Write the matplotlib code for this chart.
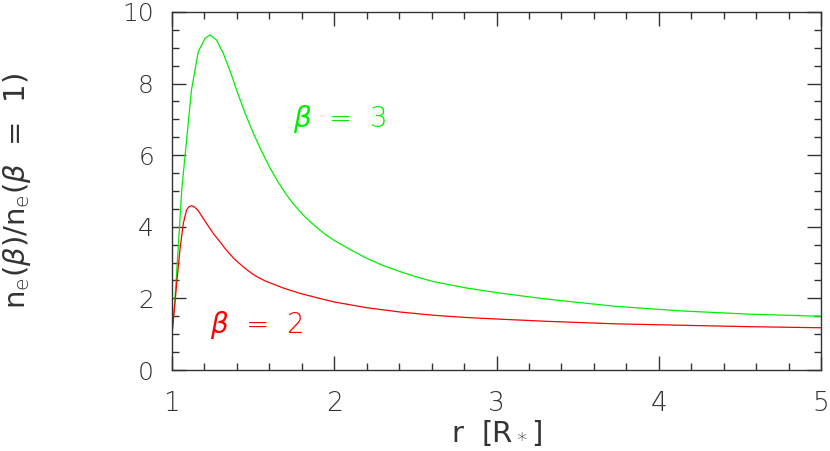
import matplotlib
matplotlib.use("Agg")
import matplotlib.pyplot as plt

# curves
r_beta3 = [1.0, 1.018, 1.039, 1.06, 1.09, 1.12, 1.142, 1.162, 1.183, 1.203, 1.234,
           1.274, 1.316, 1.367, 1.398, 1.45, 1.5, 1.55, 1.6, 1.65, 1.7, 1.75,
           1.8, 1.85, 1.9, 1.95, 2.0, 2.1, 2.2, 2.3, 2.405, 2.5, 2.61, 2.815, 3.02,
           3.31, 3.73, 4.14, 4.56, 5.0]
n_beta3 = [1.0, 1.96, 3.44, 5.03, 6.42, 7.82, 8.38, 8.89, 9.08, 9.26, 9.36,
           9.22, 8.85, 8.24, 7.82, 7.18, 6.63, 6.13, 5.68, 5.28, 4.93, 4.63,
           4.37, 4.15, 3.95, 3.77, 3.62, 3.36, 3.12, 2.92, 2.75, 2.61, 2.47, 2.29, 2.15,
           1.98, 1.78, 1.65, 1.56, 1.50]

r_beta2 = [1.0, 1.015, 1.029, 1.049, 1.07, 1.09, 1.105, 1.121, 1.14, 1.162, 1.19,
           1.224, 1.26, 1.296, 1.326, 1.38, 1.45, 1.51, 1.573, 1.686, 1.79,
           1.91, 2.0, 2.2, 2.405, 2.61, 2.8, 3.02, 3.31, 3.73, 4.14, 4.56, 5.0]
n_beta2 = [0.98, 1.7, 2.42, 3.35, 4.1, 4.47, 4.56, 4.59, 4.55, 4.45, 4.25,
           4.02, 3.78, 3.58, 3.4, 3.12, 2.84, 2.64, 2.49, 2.29, 2.14,
           2.0, 1.9, 1.74, 1.62, 1.53, 1.47, 1.42, 1.36, 1.29, 1.25, 1.21, 1.18]

plt.rcParams['font.family'] = ['DejaVu Sans']
plt.rcParams['font.weight'] = 'light'
plt.rcParams['mathtext.fontset'] = 'custom'
plt.rcParams['mathtext.rm'] = 'DejaVu Sans:weight=light'
plt.rcParams['mathtext.it'] = 'DejaVu Sans:italic'

ink = '#333333'
fig = plt.figure(figsize=(8.3, 4.51), dpi=100)
ax = fig.add_axes([0.2072, 0.1796, 0.782, 0.7938])

ax.plot(r_beta3, n_beta3, color='#00ee00', lw=0.9, solid_joinstyle='round')
ax.plot(r_beta2, n_beta2, color='#ff0000', lw=0.9, solid_joinstyle='round')

ax.text(2.03, 7.0, r'$\beta$  =  3', color='#00ee00', fontsize=20, ha='center', va='center')
ax.text(1.52, 1.26, r'$\beta$  =  2', color='#ff0000', fontsize=20, ha='center', va='center')

ax.set_xlim(1, 5)
ax.set_ylim(0, 10)
ax.set_xticks([1, 2, 3, 4, 5])
ax.set_yticks([0, 2, 4, 6, 8, 10])
ax.set_xticks([1 + 0.2 * i for i in range(21)], minor=True)
ax.set_yticks([0.5 * i for i in range(21)], minor=True)
ax.tick_params(which='both', direction='in', top=True, right=True, color=ink,
               labelcolor=ink)
ax.tick_params(axis='x', which='major', length=10, width=1, pad=15, labelsize=19)
ax.tick_params(axis='y', which='major', length=10, width=1, pad=13, labelsize=18)
ax.tick_params(which='minor', length=5, width=1)
for s in ax.spines.values():
    s.set_color(ink)
    s.set_linewidth(1)

ax.set_xlabel(r'r  [R$_*$]', fontsize=21, color=ink, labelpad=2)
ax.set_ylabel(r'n$_\mathrm{e}$($\beta$)/n$_\mathrm{e}$($\beta$  =  1)', fontsize=21,
              color=ink, labelpad=64)

fig.savefig('out.png', dpi=100)
